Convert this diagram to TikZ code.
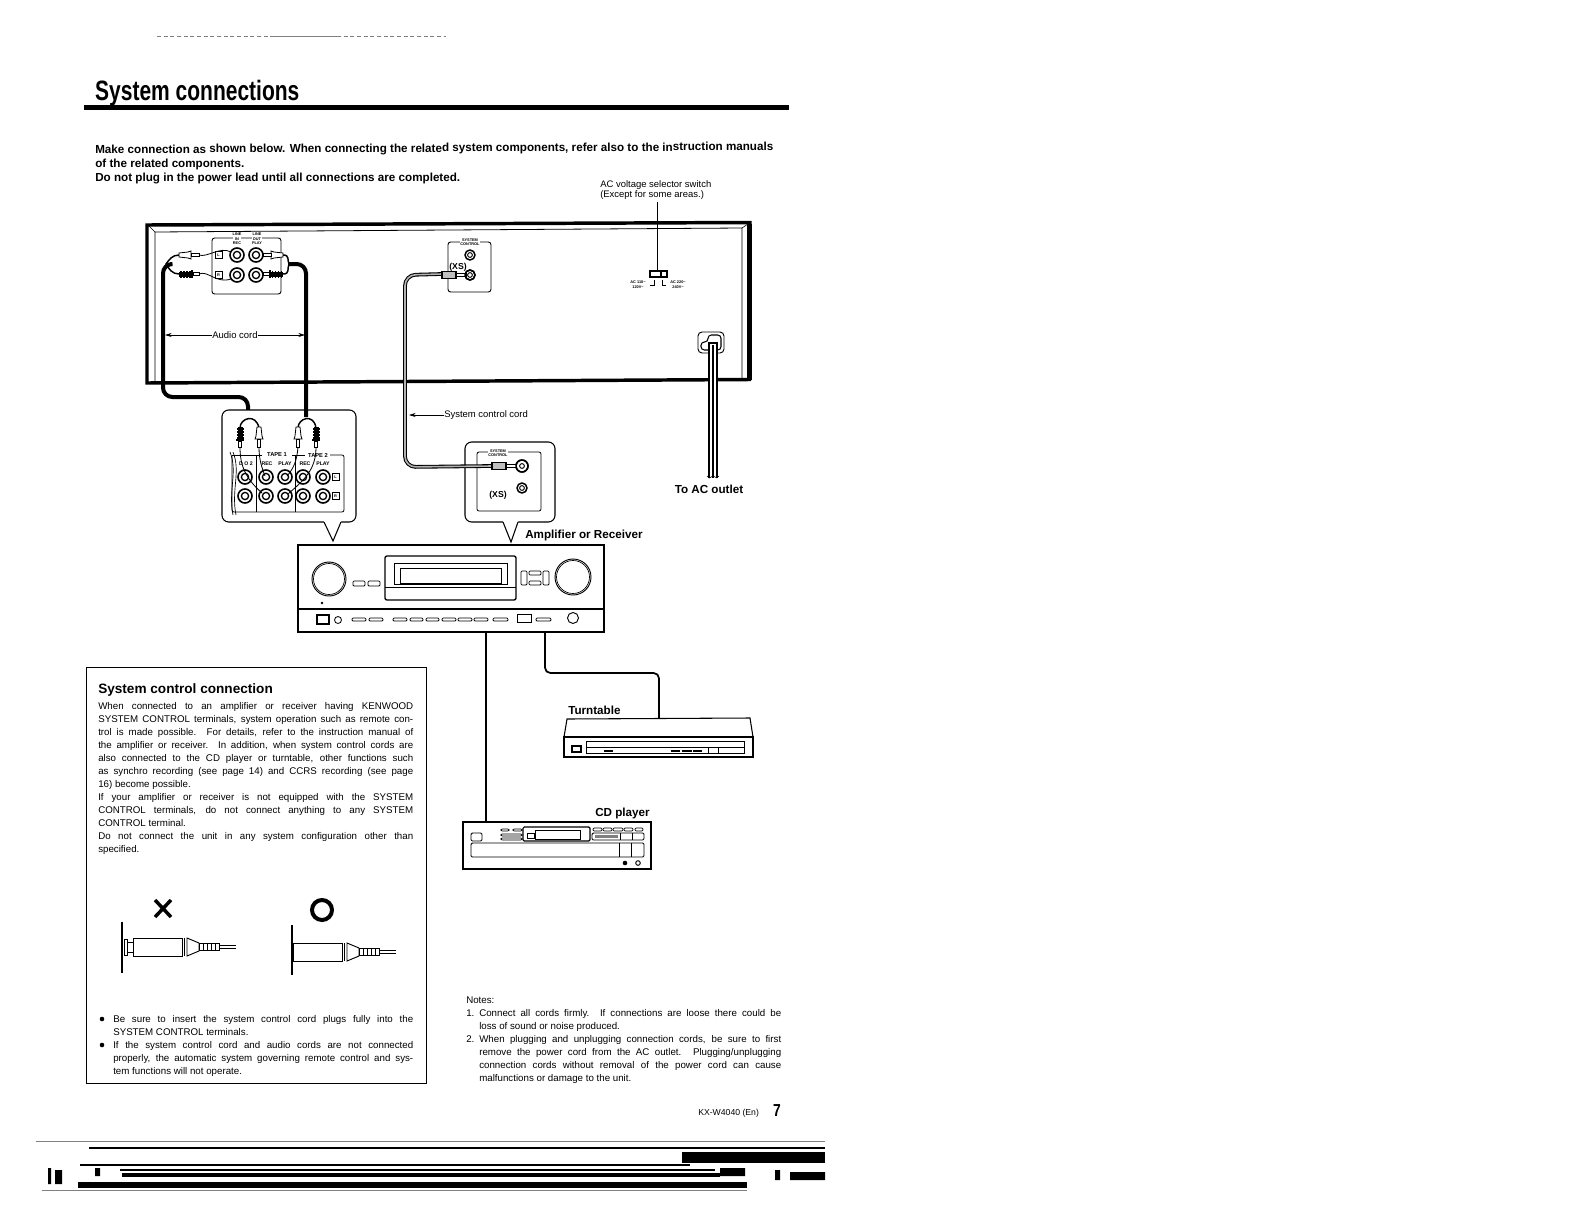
\documentclass[tikz,border=0pt]{standalone}
\usepackage{fontspec}
\setmainfont{Liberation Sans}
\usetikzlibrary{arrows.meta}
\def\px{0.75pt}
\tikzset{
    bodytext/.style={font=\fontsize{7.3}{9.75}\selectfont, anchor=north west, inner sep=0pt, align=justify},
    headtext/.style={font=\fontsize{8.75}{9.75}\selectfont\bfseries, inner sep=0pt},
    tinytext/.style={font=\fontsize{2.9}{3.3}\selectfont\bfseries, inner sep=0pt, align=center},
    smalltext/.style={font=\fontsize{7.1}{7.5}\selectfont, inner sep=0pt},
    balloon/.style={draw, line width=0.8pt, fill=white, rounded corners=5pt},
    unitbox/.style={draw, line width=0.9pt, inner sep=0pt, fill=white},
    oblong/.style={draw, line width=0.6pt, rounded corners=0.8pt},
    audiocord/.style={line width=3pt, rounded corners=7pt},
    thincord/.style={line width=0.6pt},
    ctrlcord/.style={draw, line width=0.8pt, double=white!70!black, double distance=1.2pt, rounded corners=8pt},
    labelarrow/.style={line width=0.5pt, -{Stealth[length=5pt, width=3pt]}},
    pics/plugwhite/.style={code={
        \draw[fill=white, line width=0.6pt] (0,-2) -- (9,-3) -- (12,-4) -- (12,4) -- (9,3) -- (0,2) -- cycle;
        \draw[fill=white, line width=0.6pt] (12,-1.5) rectangle (20,1.5);
    }},
    pics/plugblack/.style={code={
        \fill (0,-2.5) rectangle (12,2.5);
        \foreach \rib in {1,4,7,10} {\fill (\rib,-3.5) rectangle ++(1.5,7);}
        \fill (12,-4) rectangle (14,4);
        \draw[fill=white, line width=0.6pt] (14,-1.5) rectangle (20,1.5);
    }},
    pics/plugctrl/.style={code={
        \draw[fill=white!75!black, line width=0.8pt] (0,-3.5) rectangle (14,3.5);
        \draw[fill=white, line width=0.7pt] (14,-1.5) rectangle (24,1.5);
    }},
    pics/plugside/.style={code={
        \draw[line width=0.7pt] (0,-9) rectangle (49,9);
        \draw[line width=0.7pt] (51.5,-9) -- (51.5,9);
        \draw[line width=0.7pt] (54,-9) -- (66,-4) -- (66,4) -- (54,9) -- cycle;
        \foreach \rib in {66,70,74,78,82} {\draw[line width=0.7pt] (\rib,-3.5) rectangle ++(4,7);}
        \draw[line width=0.7pt] (86,-1.6) -- (103,-1.6) (86,1.6) -- (103,1.6);
    }}
}
\begin{document}
\begin{tikzpicture}[x=0.75pt, y=-0.75pt]
    \useasboundingbox[fill=white] (0,0) rectangle (1584,1224);

    % Page head
    \draw[gray, line width=0.4pt, dash pattern=on 3pt off 2pt] (157,36) -- (272,36) (337,36) -- (446,36);
    \draw[gray, line width=0.6pt] (272,36) -- (337,36);
    \node[font=\fontsize{21}{24}\selectfont\bfseries, xscale=0.75, anchor=west, inner sep=0pt] (title) at (95,93) {System connections};
    \fill (84,104.5) rectangle (789,110);
    \node[headtext, anchor=west, rotate=0.25] (introa) at (95,150.5) {Make connection as shown below. When connecting the related system components, refer also to the instruction manuals};
    \node[headtext, anchor=west] (introb) at (95,164.5) {of the related components.};
    \node[headtext, anchor=west] (introc) at (95,178.5) {Do not plug in the power lead until all connections are completed.};

    % Rear panel of the unit
    \draw[line width=2.6pt] (147,225) -- (750,222.5) -- (749.5,379.5) -- (147,383) -- cycle;
    \fill (746.5,224) rectangle (751.5,380);
    \draw[line width=0.6pt] (155,382) -- (155,232) -- (742,228) -- (742,380);
    \draw[line width=0.5pt] (149,226) -- (155,232) (748,224) -- (742,228);

    % LINE terminals
    \draw[balloon, line width=0.7pt, rounded corners=2pt] (212,238) rectangle (281,294);
    \node[tinytext, fill=white] (linein) at (237,239) {LINE\\IN\\REC};
    \node[tinytext, fill=white] (lineout) at (257,239) {LINE\\OUT\\PLAY};
    \foreach \jx/\jy in {237/255, 256/255, 237/275, 256/275} {
        \draw[line width=1.2pt] (\jx,\jy) circle (7);
        \draw[line width=1pt] (\jx,\jy) circle (3.6);
    }
    \draw[line width=0.5pt] (215,251.5) rectangle (222,258.5) (215,271.5) rectangle (222,278.5);
    \node[tinytext] (linel) at (218.5,255) {L};
    \node[tinytext] (liner) at (218.5,275) {R};

    % Audio cords at the rear panel
    \pic at (179,255) {plugwhite};
    \pic at (179,274) {plugblack};
    \pic[rotate=180] at (283,255) {plugwhite};
    \pic[rotate=180] at (283,274) {plugblack};
    \draw[thincord] (199,255) .. controls (207,258) and (220,246) .. (231,252);
    \draw[thincord] (199,274) .. controls (208,270) and (216,284) .. (231,279);
    \draw[line width=1.1pt] (179,255) .. controls (172,255) and (169,260) .. (166,264) .. controls (169,269) and (172,274) .. (179,274);
    \draw[line width=1.1pt] (283,255) .. controls (290,255) and (287,260) .. (289,264) .. controls (287,269) and (290,274) .. (283,274);

    \coordinate (jointl) at (248,417);
    \coordinate (jointr) at (306,417);
    \draw[audiocord] (170,264) -- (163,264) -- (163,397) -- (248,397) -- (jointl);

    % SYSTEM CONTROL terminals, rear panel
    \draw[balloon, line width=0.7pt, rounded corners=2pt] (448,242) rectangle (491,292);
    \node[tinytext, fill=white] (ctrlrear) at (470,242) {SYSTEM\\CONTROL};
    \foreach \jy in {255,275} {
        \draw[line width=1.1pt] (470,\jy) circle (5);
        \draw[line width=0.7pt] (470,\jy) circle (2.4);
    }
    \node[font=\fontsize{6.5}{7}\selectfont\bfseries, inner sep=0pt] (logorear) at (458,267) {(XS)};

    % AC voltage selector
    \node[smalltext, anchor=west] (acswa) at (600,185.5) {AC voltage selector switch};
    \node[smalltext, anchor=west] (acswb) at (600,195.5) {(Except for some areas.)};
    \node[unitbox, minimum width=17*\px, minimum height=6*\px] (acsw) at (658.5,274) {};
    \coordinate (acswtop) at (657,202);
    \draw[line width=0.6pt] (acswtop) -- (acsw.north -| acswtop);
    \draw[line width=0.9pt] (661,271) -- (661,277);
    \draw[line width=0.5pt] (650,285) -- (654,285) -- (654,280) (662,280) -- (662,285) -- (666,285);
    \node[tinytext] (aclow) at (638,284.5) {AC 110\textasciitilde\\120V\textasciitilde};
    \node[tinytext] (achigh) at (678,284.5) {AC 220\textasciitilde\\240V\textasciitilde};

    % AC inlet and power lead
    \draw[line width=0.7pt, rounded corners=3pt] (698,332) rectangle (724,353);
    \draw[line width=0.8pt, rounded corners=2.5pt] (701,342) -- (708,342) -- (708,335) -- (721,335) -- (721,350) -- (701,350) -- cycle;
    \fill[white] (709,343) rectangle (717,478);
    \draw[line width=0.8pt] (709,478) -- (709,343) -- (717,343) -- (717,478);
    \draw[line width=1.4pt] (713,345) -- (713,478);
    \draw[line width=0.5pt] (707,476) -- (709,478) -- (713,476) -- (717,478) -- (719,476);
    \node[headtext, anchor=center] (outlet) at (709,489) {To AC outlet};

    % Balloon with tape terminals
    \draw[balloon] (222,410) rectangle (356,522);
    \fill[white] (324,521) -- (341,521) -- (341,523) -- (333,541) -- (324,523) -- cycle;
    \draw[line width=0.8pt] (324,522) -- (333,541) -- (341,522);
    \draw[line width=0.6pt, rounded corners=1.5pt] (232,455) -- (232,512) -- (344,512) -- (344,455) -- (330,455);
    \draw[line width=0.6pt] (232,455) -- (262,455) (292,455) -- (305,455);
    \draw[line width=0.6pt] (256,455) -- (256,512) (295,455) -- (295,512);
    \draw[line width=0.5pt] (230,452) .. controls (238,472) and (228,490) .. (233,515);
    \draw[line width=0.5pt] (233,452) .. controls (241,472) and (231,490) .. (236,515);
    \node[tinytext, font=\fontsize{4.3}{5}\selectfont\bfseries, fill=white] (tapea) at (277,455) {TAPE 1};
    \node[tinytext, font=\fontsize{4.3}{5}\selectfont\bfseries, fill=white] (tapeb) at (318,455) {TAPE 2};
    \foreach \lx/\ltxt/\lname in {246/D O 2/lbla, 267/REC/lblb, 285/PLAY/lblc, 305/REC/lbld, 323/PLAY/lble} {
        \node[tinytext, font=\fontsize{3.9}{5}\selectfont\bfseries] (\lname) at (\lx,464) {\ltxt};
    }
    \foreach \jx in {245,266,285,303,323} {
        \foreach \jy in {477,496} {
            \draw[line width=1.2pt] (\jx,\jy) circle (7);
            \draw[line width=1pt] (\jx,\jy) circle (3.6);
        }
    }
    \draw[line width=0.5pt] (332,473.5) rectangle (339,480.5) (332,492.5) rectangle (339,499.5);
    \node[tinytext] (tapel) at (335.5,477) {L};
    \node[tinytext] (taper) at (335.5,496) {R};

    % Audio cords at the balloon
    \draw[audiocord] (jointr) -- (306,264) -- (288,264);
    \draw[line width=1.1pt] (240,428) .. controls (240,418) and (256,413) .. (259,428);
    \draw[line width=1.1pt] (298,428) .. controls (298,418) and (314,413) .. (316,428);
    \pic[rotate=-90] at (240,427) {plugblack};
    \pic[rotate=-90] at (259,427) {plugwhite};
    \pic[rotate=-90] at (298,427) {plugwhite};
    \pic[rotate=-90] at (316,427) {plugblack};
    \draw[thincord] (240,447) .. controls (240,465) and (245,478) .. (262,493);
    \draw[thincord] (259,447) .. controls (259,460) and (262,468) .. (265,476);
    \draw[thincord] (298,447) .. controls (297,460) and (294,468) .. (287,476);
    \draw[thincord] (316,447) .. controls (316,470) and (304,480) .. (288,494);

    % Balloon with SYSTEM CONTROL terminal
    \draw[balloon] (465,442) rectangle (555,522);
    \fill[white] (503,521) -- (518,521) -- (518,523) -- (511,542) -- (503,523) -- cycle;
    \draw[line width=0.8pt] (503,522) -- (511,542) -- (518,522);
    \draw[line width=0.6pt, rounded corners=1.5pt] (477,452) -- (477,511) -- (541,511) -- (541,452) -- cycle;
    \node[tinytext, fill=white] (ctrlamp) at (498,453) {SYSTEM\\CONTROL};
    \foreach \jy/\jr in {466/6, 488/5} {
        \draw[line width=1.1pt] (522,\jy) circle (\jr);
        \draw[line width=0.7pt] (522,\jy) circle (2.4);
    }
    \node[font=\fontsize{6.5}{7}\selectfont\bfseries, inner sep=0pt] (logoamp) at (498,495) {(XS)};

    % System control cord
    \draw[ctrlcord] (442,274) -- (405,275) -- (405,467) -- (492,466);
    \pic at (442,275) {plugctrl};
    \pic at (492,466) {plugctrl};
    \draw[line width=1.1pt] (470,275) circle (5);
    \draw[line width=1.1pt] (522,466) circle (6);

    % Cord labels
    \node[smalltext] (audiolbl) at (235,335) {Audio cord};
    \coordinate (audioend) at (165,335);
    \coordinate (audioenr) at (305,335);
    \draw[labelarrow] (audiolbl.west) -- (audioend);
    \draw[labelarrow] (audiolbl.east) -- (audioenr);
    \node[smalltext, anchor=west] (ctrllbl) at (444,415) {System control cord};
    \coordinate (ctrlend) at (409,415);
    \draw[labelarrow] (ctrllbl.west) -- (ctrlend);

    % Amplifier or receiver
    \node[headtext, anchor=west] (amplbl) at (525,535.5) {Amplifier or Receiver};
    \node[unitbox, minimum width=306*\px, minimum height=87*\px] (amp) at (451,588.5) {};
    \draw[line width=0.9pt] (298,609) -- (604,609);
    \draw[line width=0.7pt] (329,579) circle (17);
    \draw[line width=0.5pt] (329,579) circle (15.5);
    \draw[line width=0.7pt] (573,577) circle (18);
    \draw[line width=0.5pt] (573,577) circle (16.5);
    \draw[line width=1pt, rounded corners=1.5pt] (385,556) rectangle (516,600);
    \draw[line width=0.7pt] (394,563) rectangle (507,584);
    \draw[line width=0.7pt] (400,568) rectangle (501,583);
    \draw[line width=0.5pt] (385,587) -- (516,587);
    \foreach \ox/\oy/\ow/\oh in {353/581/12/5, 368/581/12/5, 521/571/6/14, 529/571/12/4, 529/581/12/4, 543/571/6/14, 352/618/14/3, 369/618/14/3, 393/618/14/3, 410/618/13/3, 426/618/13/3, 442/618/14/3, 458/618/14/3, 474/618/14/3, 493/618/15/3, 536/618/15/3} {
        \draw[oblong] (\ox,\oy) rectangle ++(\ow,\oh);
    }
    \fill (322,603) circle (1.3);
    \draw[line width=1.2pt] (317,615) rectangle (329,624);
    \draw[line width=0.6pt] (338,620) circle (3.5);
    \draw[line width=0.6pt] (517,614) rectangle (531,622);
    \draw[line width=0.7pt] (573,618) circle (5.5);

    % Turntable
    \node[headtext, anchor=west] (ttlbl) at (568,710) {Turntable};
    \draw[line width=0.8pt] (564,737) -- (567,719) -- (750,718) -- (753,737);
    \node[unitbox, minimum width=189*\px, minimum height=20*\px] (turntable) at (658.5,747) {};
    \draw[line width=0.9pt] (572,746) rectangle (581,752);
    \draw[line width=0.6pt] (586,741) rectangle (744,753) (586,747) -- (744,747);
    \draw[line width=0.5pt] (708,747) -- (708,753) (718,747) -- (718,753);
    \foreach \sx/\sw in {604/9, 671/9, 682/10, 693/9} {\fill (\sx,749.5) rectangle ++(\sw,2);}

    % CD player
    \node[headtext, anchor=west] (cdlbl) at (595,813.5) {CD player};
    \node[unitbox, minimum width=188*\px, minimum height=47*\px] (cd) at (557,845.5) {};
    \draw[line width=0.7pt, rounded corners=1pt] (471,833) rectangle (482,841);
    \foreach \ox/\oy/\ow/\oh in {501/829/8/2, 513/829/9/2, 501/834/21/2, 501/838/21/2, 593/828/9/3, 603/828/9/3, 613/828/10/3, 624/828/9/3, 635/828/8/3} {
        \draw[oblong, line width=0.5pt] (\ox,\oy) rectangle ++(\ow,\oh);
    }
    \draw[line width=0.9pt, rounded corners=1pt] (523,827) rectangle (590,841);
    \draw[line width=0.4pt] (535,830) rectangle (580,839);
    \draw[line width=0.6pt] (527,833) rectangle (534,838);
    \draw[line width=0.7pt, rounded corners=1pt] (592,833) rectangle (644,840);
    \fill[gray] (595,835) rectangle (618,838);
    \draw[line width=0.6pt] (620,833) -- (620,840) (632,833) -- (632,840);
    \draw[line width=0.7pt, rounded corners=1pt] (471,843) rectangle (644,857);
    \draw[line width=0.6pt] (619,843) -- (619,857) (631,843) -- (631,857);
    \fill (625,863) circle (2.3);
    \draw[line width=0.7pt] (638,863) circle (2.3);

    % Connections from the amplifier
    \coordinate (cdcord) at (486,700);
    \coordinate (ttcord) at (659,718);
    \draw[line width=1.3pt] (amp.south -| cdcord) -- (cd.north -| cdcord);
    \draw[line width=1.3pt, rounded corners=4pt] (545,632) -- (545,673) -- (659,673) -- (ttcord);

    % System control connection panel
    \draw[line width=0.7pt] (86,667) rectangle (426,1083);
    \node[font=\fontsize{10.2}{12}\selectfont\bfseries, anchor=west, inner sep=0pt] (panelhead) at (98,690) {System control connection};
    \node[bodytext, text width=315*\px] (paneltext) at (98,702) {When connected to an amplifier or receiver having KENWOOD\linebreak
    SYSTEM CONTROL terminals, system operation such as remote con-\linebreak
    trol is made possible. For details, refer to the instruction manual of\linebreak
    the amplifier or receiver. In addition, when system control cords are\linebreak
    also connected to the CD player or turntable, other functions such\linebreak
    as synchro recording (see page 14) and CCRS recording (see page\linebreak
    16) become possible.\par
    If your amplifier or receiver is not equipped with the SYSTEM\linebreak
    CONTROL terminals, do not connect anything to any SYSTEM\linebreak
    CONTROL terminal.\par
    Do not connect the unit in any system configuration other than\linebreak
    specified.};

    % Wrong and right plug insertion
    \draw[line width=2.6pt] (155,900) -- (171,917) (171,900) -- (155,917);
    \draw[line width=3pt] (322,910) circle (10);
    \draw[line width=0.9pt] (122,922) -- (122,973);
    \draw[line width=0.7pt] (124,939) rectangle (127,955);
    \draw[line width=0.7pt] (127,942) rectangle (133,952);
    \pic at (133,947) {plugside};
    \draw[line width=0.9pt] (292,925) -- (292,975);
    \pic at (293,952) {plugside};

    % Bulleted notes in the panel
    \fill (102,1019) circle (2.3);
    \fill (102,1045) circle (2.3);
    \node[bodytext, text width=300*\px] (panelnote) at (113,1015) {Be sure to insert the system control cord plugs fully into the\linebreak
    SYSTEM CONTROL terminals.\par
    If the system control cord and audio cords are not connected\linebreak
    properly, the automatic system governing remote control and sys-\linebreak
    tem functions will not operate.};

    % Notes
    \node[bodytext] (noteshead) at (466,997) {Notes:};
    \node[bodytext] (notea) at (466,1009.5) {1.};
    \node[bodytext] (noteb) at (466,1035.5) {2.};
    \node[bodytext, text width=302*\px] (notestext) at (479,1009.5) {Connect all cords firmly. If connections are loose there could be\linebreak
    loss of sound or noise produced.\par
    When plugging and unplugging connection cords, be sure to first\linebreak
    remove the power cord from the AC outlet. Plugging/unplugging\linebreak
    connection cords without removal of the power cord can cause\linebreak
    malfunctions or damage to the unit.};

    % Page foot
    \node[smalltext, font=\fontsize{6.5}{7.5}\selectfont, anchor=west] (model) at (698,1113) {KX-W4040 (En)};
    \node[font=\fontsize{13}{14}\selectfont\bfseries, xscale=0.8, inner sep=0pt] (pageno) at (777,1111) {7};

    % Scan residue at the lower edge
    \draw[gray, line width=0.5pt] (36,1141) -- (825,1141);
    \draw[line width=1.3pt] (89,1148) -- (825,1148);
    \fill (682,1152) rectangle (825,1163);
    \draw[line width=1pt] (80,1165) -- (690,1165);
    \draw[line width=0.8pt] (120,1170) -- (715,1170);
    \fill (122,1173) rectangle (720,1177);
    \fill (78,1182) rectangle (747,1188);
    \draw[gray, line width=0.5pt] (42,1190) -- (747,1190);
    \fill (48,1168) rectangle (51,1184) (55,1170) rectangle (62,1184) (95,1168) rectangle (100,1176);
    \fill (720,1168) rectangle (745,1176) (775,1170) rectangle (780,1180) (790,1172) rectangle (825,1180);
\end{tikzpicture}
\end{document}
